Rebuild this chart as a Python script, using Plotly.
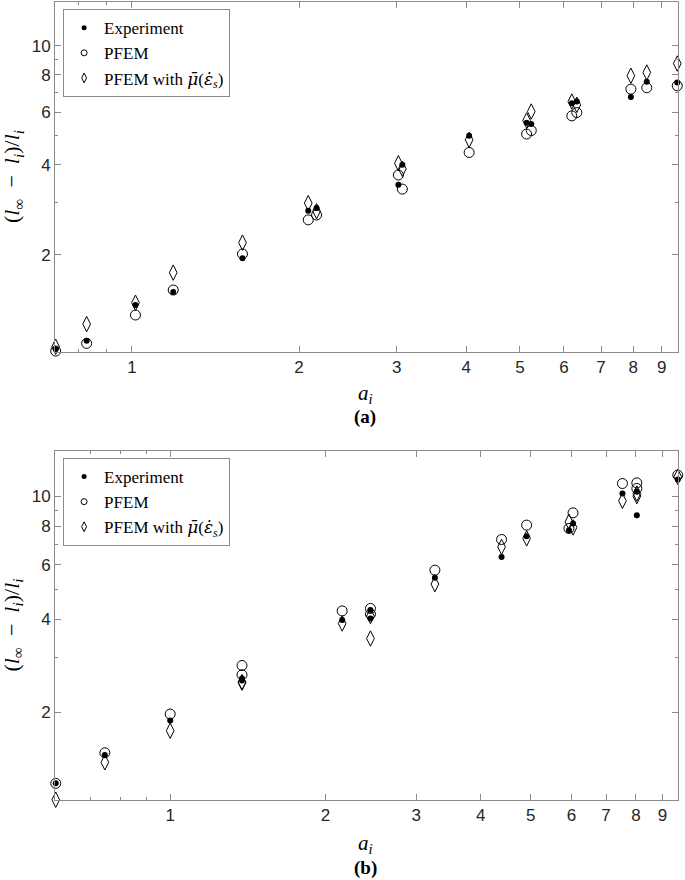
import numpy as np
import plotly.graph_objects as go

# Panel (a) data
a_x = [0.729, 0.829, 1.015, 1.187, 1.582, 2.078, 2.151, 3.02, 3.07, 4.05,
       5.14, 5.24, 6.20, 6.33, 7.92, 8.46, 9.60]
a_exp = [0.970, 1.034, 1.362, 1.504, 1.95, 2.81, 2.87, 3.43, 4.00, 5.00,
         5.53, 5.48, 6.43, 6.51, 6.74, 7.58, 7.54]
a_pfem = [0.955, 1.013, 1.260, 1.527, 2.015, 2.62, 2.72, 3.70, 3.32, 4.40,
          5.07, 5.21, 5.83, 5.98, 7.16, 7.24, 7.35]
a_pfem_mu = [0.987, 1.175, 1.385, 1.746, 2.199, 2.98, 2.80, 4.05, 3.88, 4.85,
             5.63, 6.03, 6.51, 6.35, 7.94, 8.14, 8.72]

# Panel (b) data
b_x = [0.600, 0.747, 1.0, 1.378, 1.378, 2.155, 2.445, 2.445, 3.26, 4.39,
       4.91, 5.93, 6.04, 7.53, 8.03, 8.03, 9.64]
b_exp = [1.175, 1.451, 1.876, 2.57, 2.53, 3.97, 4.28, 4.02, 5.44, 6.35,
         7.42, 7.76, 8.16, 10.20, 10.33, 8.68, 11.33]
b_pfem = [1.175, 1.476, 1.97, 2.83, 2.64, 4.25, 4.33, 4.15, 5.76, 7.24,
          8.06, 7.86, 8.83, 10.99, 11.04, 10.59, 11.70]
b_pfem_mu = [1.04, 1.375, 1.74, 2.49, 2.50, 3.87, 3.46, 4.09, 5.19, 6.85,
             7.30, 8.26, 7.92, 9.66, 10.0, 10.20, 11.55]

x_major = [1, 2, 3, 4, 5, 6, 7, 8, 9]
y_major = [2, 4, 6, 8, 10]
y_minor = [3, 5, 7, 9]
a_x_minor = [0.8, 0.9]
b_x_minor = [0.6, 0.7, 0.8, 0.9]

MU = '<span style="font-family:DejaVu Serif">μ̄</span>'
EPS = '<span style="font-family:DejaVu Serif">ε̇</span>'
LEGEND_NAMES = ["Experiment", "PFEM",
                f"PFEM with <i>{MU}</i>(<i>{EPS}</i><sub><i>s</i></sub>)"]
GREY = "#8a8a8a"
SERIF = "Liberation Serif, Times New Roman, serif"
SANS = "Liberation Sans, Arial, sans-serif"

styles = [
    dict(symbol="circle", size=6, color="black", line=dict(width=0)),
    dict(symbol="circle-open", size=10, color="black", line=dict(width=1, color="black")),
    dict(symbol="diamond-tall-open", size=11, color="black", line=dict(width=1, color="black")),
]
legend_styles = [
    dict(symbol="circle", size=5, color="black"),
    dict(symbol="circle-open", size=6, color="black", line=dict(width=1)),
    dict(symbol="diamond-tall-open", size=7, color="black", line=dict(width=1)),
]

fig = go.Figure()

panels = [
    ("x", "y", "legend", a_x, [a_exp, a_pfem, a_pfem_mu]),
    ("x2", "y2", "legend2", b_x, [b_exp, b_pfem, b_pfem_mu]),
]
for xa, ya, leg, xs, series in panels:
    # draw order: open circles, diamonds, then dots on top
    for k in [1, 2, 0]:
        fig.add_trace(go.Scatter(
            x=xs, y=series[k], mode="markers", xaxis=xa, yaxis=ya,
            marker=styles[k], showlegend=False, cliponaxis=False,
            hoverinfo="x+y",
        ))
    for k in range(3):
        fig.add_trace(go.Scatter(
            x=[None], y=[None], mode="markers", xaxis=xa, yaxis=ya,
            marker=legend_styles[k], name=LEGEND_NAMES[k], legend=leg,
        ))


def log_axis(rng, domain, major, minor, anchor):
    return dict(
        type="log", range=[np.log10(rng[0]), np.log10(rng[1])], domain=domain,
        anchor=anchor, tickvals=major, ticktext=[str(v) for v in major],
        ticks="inside", ticklen=6, tickcolor=GREY, tickwidth=1,
        minor=dict(tickvals=minor, ticks="inside", ticklen=3, tickcolor=GREY),
        showline=True, linecolor=GREY, linewidth=1, mirror="ticks",
        showgrid=False, zeroline=False, automargin=False,
        tickfont=dict(family=SANS, size=17, color="#262626"),
    )


legend_common = dict(
    xanchor="left", yanchor="top", bgcolor="white", bordercolor=GREY, borderwidth=1,
    font=dict(family=SERIF, size=17, color="black"), itemwidth=30,
    tracegroupgap=0,
)

fig.update_layout(
    width=685, height=880,
    margin=dict(l=55, r=7, t=2, b=80),
    plot_bgcolor="white", paper_bgcolor="white",
    xaxis=log_axis((0.727, 9.63), [0, 1], x_major, a_x_minor, "y"),
    yaxis=log_axis((0.948, 14.0), [0.5614, 1.0], y_major, y_minor, "x"),
    xaxis2=log_axis((0.598, 9.65), [0, 1], x_major, b_x_minor, "y2"),
    yaxis2=log_axis((1.038, 14.0), [0.0, 0.4373], y_major, y_minor, "x2"),
    legend=dict(x=0.013, y=0.991, **legend_common),
    legend2=dict(x=0.013, y=0.4286, **legend_common),
)

ylabel = ("(<i>l</i><sub>∞</sub>\u2002−\u2002<i>l</i><sub><i>i</i></sub>)"
          "/<i>l</i><sub><i>i</i></sub>")
for yc in [0.7807, 0.2187]:
    fig.add_annotation(text=ylabel, xref="paper", yref="paper", x=-0.0674, y=yc,
                       xanchor="center", yanchor="middle",
                       textangle=-90, showarrow=False,
                       font=dict(family=SERIF, size=22, color="black"))
for ya_, yb_, tag in [(0.5088, 0.4805, "(a)"), (-0.0551, -0.0852, "(b)")]:
    fig.add_annotation(text="<i>a<sub>i</sub></i>", xref="paper", yref="paper",
                       x=0.4976, y=ya_, xanchor="center", yanchor="middle",
                       showarrow=False,
                       font=dict(family=SERIF, size=21, color="black"))
    fig.add_annotation(text=f"<b>{tag}</b>", xref="paper", yref="paper",
                       x=0.4976, y=yb_, xanchor="center", yanchor="middle",
                       showarrow=False,
                       font=dict(family=SERIF, size=19, color="black"))

# the page's default body margin would shift the whole figure by 8 px
fig.write_html("out.html", config={"displayModeBar": False},
               post_script="document.body.style.margin='0';")
